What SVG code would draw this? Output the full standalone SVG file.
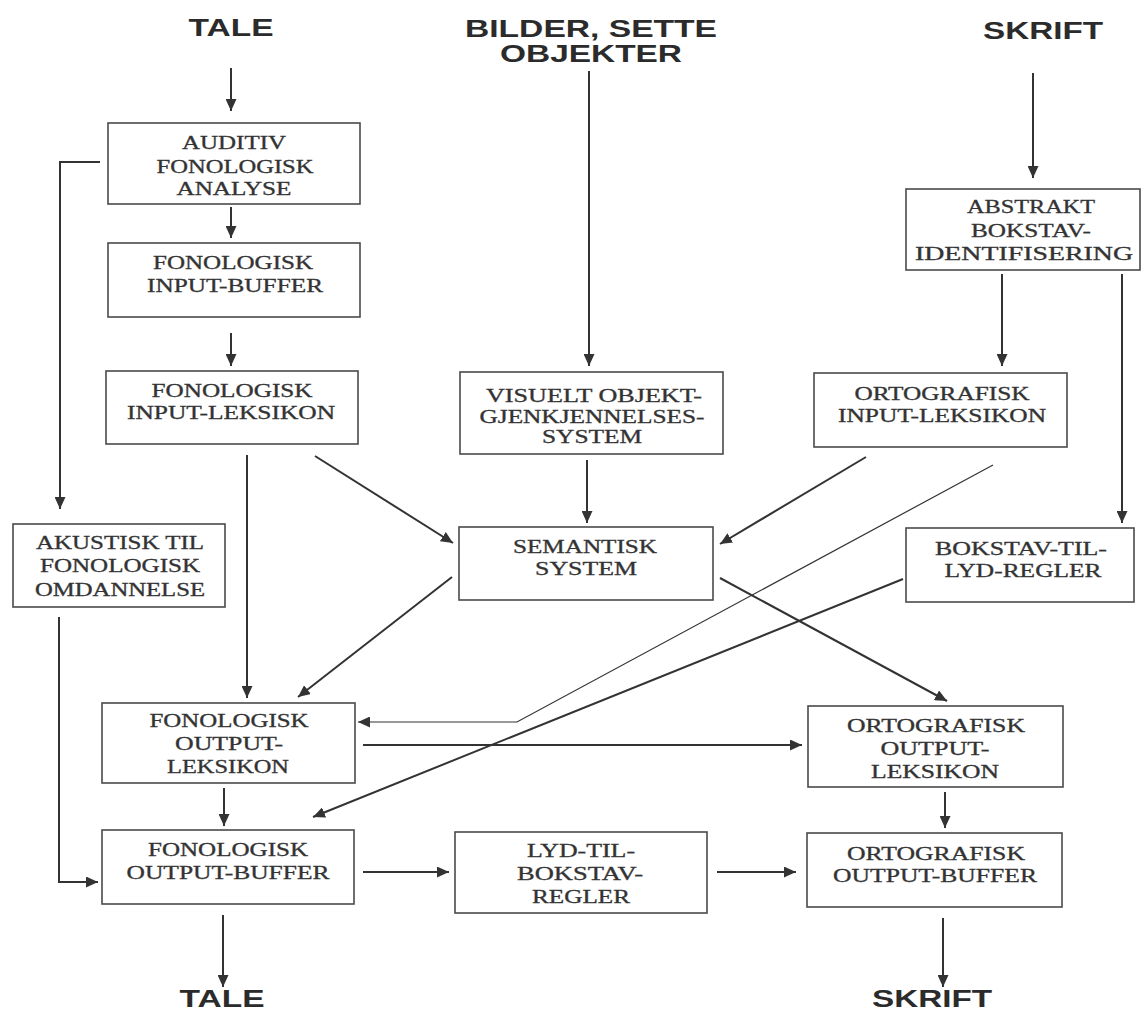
<svg xmlns="http://www.w3.org/2000/svg" width="1142" height="1014" viewBox="0 0 1142 1014">
<style>
.bg{fill:#ffffff}
.box{fill:#ffffff;stroke:#4a4a4a;stroke-width:1.6}
.t{font-family:"Liberation Serif","Times New Roman",serif;font-size:18px;fill:#333;text-anchor:middle;stroke:#333;stroke-width:0.3}
.h{font-family:"Liberation Sans",Arial,sans-serif;font-size:24px;font-weight:bold;fill:#2b2b2b;text-anchor:middle}
.c{fill:none;stroke:#333;stroke-width:2}
.thin{fill:none;stroke:#333;stroke-width:1.2}
</style>
<defs>
<marker id="ah" markerUnits="userSpaceOnUse" markerWidth="12" markerHeight="11" refX="12" refY="5.5" orient="auto">
<path d="M0,0 L12,5.5 L0,11 z" fill="#333"/>
</marker>
</defs>
<rect class="bg" x="0" y="0" width="1142" height="1014"/>

<g id="titles">
<text class="h" x="231" y="36" textLength="85" lengthAdjust="spacingAndGlyphs">TALE</text>
<text class="h" x="591" y="37" textLength="252" lengthAdjust="spacingAndGlyphs">BILDER, SETTE</text>
<text class="h" x="591" y="62" textLength="182" lengthAdjust="spacingAndGlyphs">OBJEKTER</text>
<text class="h" x="1043" y="39" textLength="120" lengthAdjust="spacingAndGlyphs">SKRIFT</text>
<text class="h" x="222" y="1007" textLength="85" lengthAdjust="spacingAndGlyphs">TALE</text>
<text class="h" x="932" y="1007" textLength="120" lengthAdjust="spacingAndGlyphs">SKRIFT</text>
</g>

<g id="connectors">
<path class="c" d="M231,68 V111" marker-end="url(#ah)"/>
<path class="c" d="M231,207 V238" marker-end="url(#ah)"/>
<path class="c" d="M231,333 V366" marker-end="url(#ah)"/>
<path class="c" d="M100,162 H60 V509" marker-end="url(#ah)"/>
<path class="c" d="M59,617 V882 H98" marker-end="url(#ah)"/>
<path class="c" d="M247,455 V698" marker-end="url(#ah)"/>
<path class="c" d="M315,456 L453,543" marker-end="url(#ah)"/>
<path class="c" d="M589,71 V366" marker-end="url(#ah)"/>
<path class="c" d="M587,460 V523" marker-end="url(#ah)"/>
<path class="c" d="M1033,73 V178" marker-end="url(#ah)"/>
<path class="c" d="M1002,274 V366" marker-end="url(#ah)"/>
<path class="c" d="M1122,274 V523" marker-end="url(#ah)"/>
<path class="c" d="M866,457 L720,544" marker-end="url(#ah)"/>
<path class="thin" d="M993,465 L517,722 H358" marker-end="url(#ah)"/>
<path class="c" d="M903,579 L313,817" marker-end="url(#ah)"/>
<path class="c" d="M452,577 L298,697" marker-end="url(#ah)"/>
<path class="c" d="M720,578 L947,701" marker-end="url(#ah)"/>
<path class="c" d="M363,745 H802" marker-end="url(#ah)"/>
<path class="c" d="M224,788 V826" marker-end="url(#ah)"/>
<path class="c" d="M945,792 V828" marker-end="url(#ah)"/>
<path class="c" d="M363,872 H449" marker-end="url(#ah)"/>
<path class="c" d="M717,872 H796" marker-end="url(#ah)"/>
<path class="c" d="M223,915 V987" marker-end="url(#ah)"/>
<path class="c" d="M943,918 V987" marker-end="url(#ah)"/>
</g>

<g id="auditiv">
<rect class="box" x="108" y="123" width="252" height="81"/>
<text class="t" x="234" y="149" textLength="104" lengthAdjust="spacingAndGlyphs">AUDITIV</text>
<text class="t" x="235" y="173" textLength="157" lengthAdjust="spacingAndGlyphs">FONOLOGISK</text>
<text class="t" x="234" y="195" textLength="115" lengthAdjust="spacingAndGlyphs">ANALYSE</text>
</g>
<g id="fon-input-buffer">
<rect class="box" x="108" y="243" width="252" height="74"/>
<text class="t" x="233" y="269" textLength="160" lengthAdjust="spacingAndGlyphs">FONOLOGISK</text>
<text class="t" x="235" y="292" textLength="176" lengthAdjust="spacingAndGlyphs">INPUT-BUFFER</text>
</g>
<g id="fon-input-leksikon">
<rect class="box" x="106" y="371" width="252" height="73"/>
<text class="t" x="232" y="397" textLength="161" lengthAdjust="spacingAndGlyphs">FONOLOGISK</text>
<text class="t" x="231" y="419" textLength="208" lengthAdjust="spacingAndGlyphs">INPUT-LEKSIKON</text>
</g>
<g id="akustisk">
<rect class="box" x="13" y="524" width="212" height="83"/>
<text class="t" x="120" y="549" textLength="168" lengthAdjust="spacingAndGlyphs">AKUSTISK TIL</text>
<text class="t" x="120" y="572" textLength="160" lengthAdjust="spacingAndGlyphs">FONOLOGISK</text>
<text class="t" x="120" y="596" textLength="170" lengthAdjust="spacingAndGlyphs">OMDANNELSE</text>
</g>
<g id="visuelt">
<rect class="box" x="460" y="372" width="263" height="82"/>
<text class="t" x="594" y="402" textLength="216" lengthAdjust="spacingAndGlyphs">VISUELT OBJEKT-</text>
<text class="t" x="592" y="423" textLength="225" lengthAdjust="spacingAndGlyphs">GJENKJENNELSES-</text>
<text class="t" x="592" y="443" textLength="100" lengthAdjust="spacingAndGlyphs">SYSTEM</text>
</g>
<g id="semantisk">
<rect class="box" x="459" y="527" width="254" height="73"/>
<text class="t" x="585" y="553" textLength="144" lengthAdjust="spacingAndGlyphs">SEMANTISK</text>
<text class="t" x="586" y="575" textLength="102" lengthAdjust="spacingAndGlyphs">SYSTEM</text>
</g>
<g id="abstrakt">
<rect class="box" x="906" y="189" width="234" height="81"/>
<text class="t" x="1031" y="213" textLength="128" lengthAdjust="spacingAndGlyphs">ABSTRAKT</text>
<text class="t" x="1031" y="237" textLength="120" lengthAdjust="spacingAndGlyphs">BOKSTAV-</text>
<text class="t" x="1024" y="260" textLength="218" lengthAdjust="spacingAndGlyphs">IDENTIFISERING</text>
</g>
<g id="ort-input-leksikon">
<rect class="box" x="814" y="373" width="253" height="74"/>
<text class="t" x="942" y="400" textLength="175" lengthAdjust="spacingAndGlyphs">ORTOGRAFISK</text>
<text class="t" x="942" y="422" textLength="208" lengthAdjust="spacingAndGlyphs">INPUT-LEKSIKON</text>
</g>
<g id="bokstav-til-lyd">
<rect class="box" x="906" y="528" width="228" height="74"/>
<text class="t" x="1021" y="555" textLength="172" lengthAdjust="spacingAndGlyphs">BOKSTAV-TIL-</text>
<text class="t" x="1023" y="577" textLength="157" lengthAdjust="spacingAndGlyphs">LYD-REGLER</text>
</g>
<g id="fon-output-leksikon">
<rect class="box" x="102" y="703" width="253" height="80"/>
<text class="t" x="229" y="727" textLength="159" lengthAdjust="spacingAndGlyphs">FONOLOGISK</text>
<text class="t" x="229" y="750" textLength="108" lengthAdjust="spacingAndGlyphs">OUTPUT-</text>
<text class="t" x="228" y="773" textLength="122" lengthAdjust="spacingAndGlyphs">LEKSIKON</text>
</g>
<g id="fon-output-buffer">
<rect class="box" x="102" y="830" width="252" height="74"/>
<text class="t" x="228" y="856" textLength="160" lengthAdjust="spacingAndGlyphs">FONOLOGISK</text>
<text class="t" x="228" y="879" textLength="203" lengthAdjust="spacingAndGlyphs">OUTPUT-BUFFER</text>
</g>
<g id="lyd-til-bokstav">
<rect class="box" x="455" y="832" width="252" height="81"/>
<text class="t" x="581" y="857" textLength="108" lengthAdjust="spacingAndGlyphs">LYD-TIL-</text>
<text class="t" x="580" y="880" textLength="126" lengthAdjust="spacingAndGlyphs">BOKSTAV-</text>
<text class="t" x="581" y="903" textLength="98" lengthAdjust="spacingAndGlyphs">REGLER</text>
</g>
<g id="ort-output-leksikon">
<rect class="box" x="808" y="706" width="255" height="81"/>
<text class="t" x="936" y="732" textLength="178" lengthAdjust="spacingAndGlyphs">ORTOGRAFISK</text>
<text class="t" x="935" y="755" textLength="109" lengthAdjust="spacingAndGlyphs">OUTPUT-</text>
<text class="t" x="935" y="778" textLength="128" lengthAdjust="spacingAndGlyphs">LEKSIKON</text>
</g>
<g id="ort-output-buffer">
<rect class="box" x="807" y="833" width="255" height="74"/>
<text class="t" x="936" y="860" textLength="178" lengthAdjust="spacingAndGlyphs">ORTOGRAFISK</text>
<text class="t" x="935" y="882" textLength="204" lengthAdjust="spacingAndGlyphs">OUTPUT-BUFFER</text>
</g>
</svg>
